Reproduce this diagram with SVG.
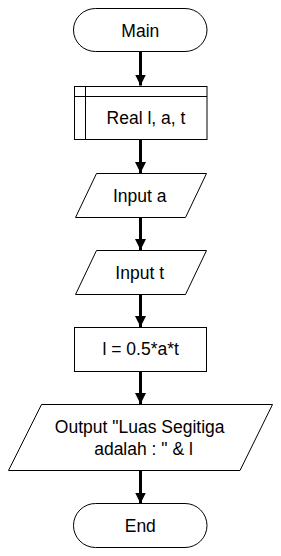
<svg xmlns="http://www.w3.org/2000/svg" width="281" height="556" viewBox="0 0 281 556">
<style>
.s{fill:#fff;stroke:#000;stroke-width:1}
.t{font-family:"Liberation Sans",Arial,sans-serif;font-size:17.5px;fill:#000;text-anchor:middle}
.c{stroke:#000;stroke-width:3;fill:none}
</style>
<defs>
<marker id="ah" markerUnits="userSpaceOnUse" markerWidth="12" markerHeight="12" refX="11" refY="6" orient="auto">
<path d="M0,0.5 L11,6 L0,11.5 Z" fill="#000"/>
</marker>
</defs>
<rect width="281" height="556" fill="#fff"/>
<g id="connectors">
<line class="c" x1="140.5" y1="51.5" x2="140.5" y2="85.5" marker-end="url(#ah)"/>
<line class="c" x1="140.5" y1="139.5" x2="140.5" y2="173" marker-end="url(#ah)"/>
<line class="c" x1="140.5" y1="217.5" x2="140.5" y2="250" marker-end="url(#ah)"/>
<line class="c" x1="140.5" y1="294.5" x2="140.5" y2="327" marker-end="url(#ah)"/>
<line class="c" x1="140.5" y1="371.5" x2="140.5" y2="404" marker-end="url(#ah)"/>
<line class="c" x1="140.5" y1="470.5" x2="140.5" y2="503.5" marker-end="url(#ah)"/>
</g>
<g id="main">
<rect class="s" x="73.5" y="8.5" width="133.5" height="43" rx="22" ry="21.5"/>
<text class="t" x="140.3" y="37">Main</text>
</g>
<g id="declare">
<rect class="s" x="74.5" y="86.5" width="132.5" height="53"/>
<line class="s" x1="85.5" y1="86.5" x2="85.5" y2="139.5"/>
<line class="s" x1="74.5" y1="96.5" x2="207" y2="96.5"/>
<text class="t" x="146" y="124">Real l, a, t</text>
</g>
<g id="input_a">
<polygon class="s" points="96.5,173.5 206.5,173.5 185.5,217.5 75.5,217.5"/>
<text class="t" x="139.7" y="202">Input a</text>
</g>
<g id="input_t">
<polygon class="s" points="96.5,250.5 206.5,250.5 185.5,294.5 75.5,294.5"/>
<text class="t" x="139.7" y="278.5">Input t</text>
</g>
<g id="assign">
<rect class="s" x="74.5" y="327.5" width="132" height="44"/>
<text class="t" x="140.7" y="355">l = 0.5*a*t</text>
</g>
<g id="output">
<polygon class="s" points="41.5,404.5 272.5,404.5 240,470.5 8.5,470.5"/>
<text class="t" x="139.7" y="433">Output "Luas Segitiga</text>
<text class="t" x="143.5" y="454.5">adalah : " &amp; l</text>
</g>
<g id="end">
<rect class="s" x="73.5" y="503.5" width="133.5" height="44" rx="22" ry="22"/>
<text class="t" x="140.3" y="531.7">End</text>
</g>
</svg>
